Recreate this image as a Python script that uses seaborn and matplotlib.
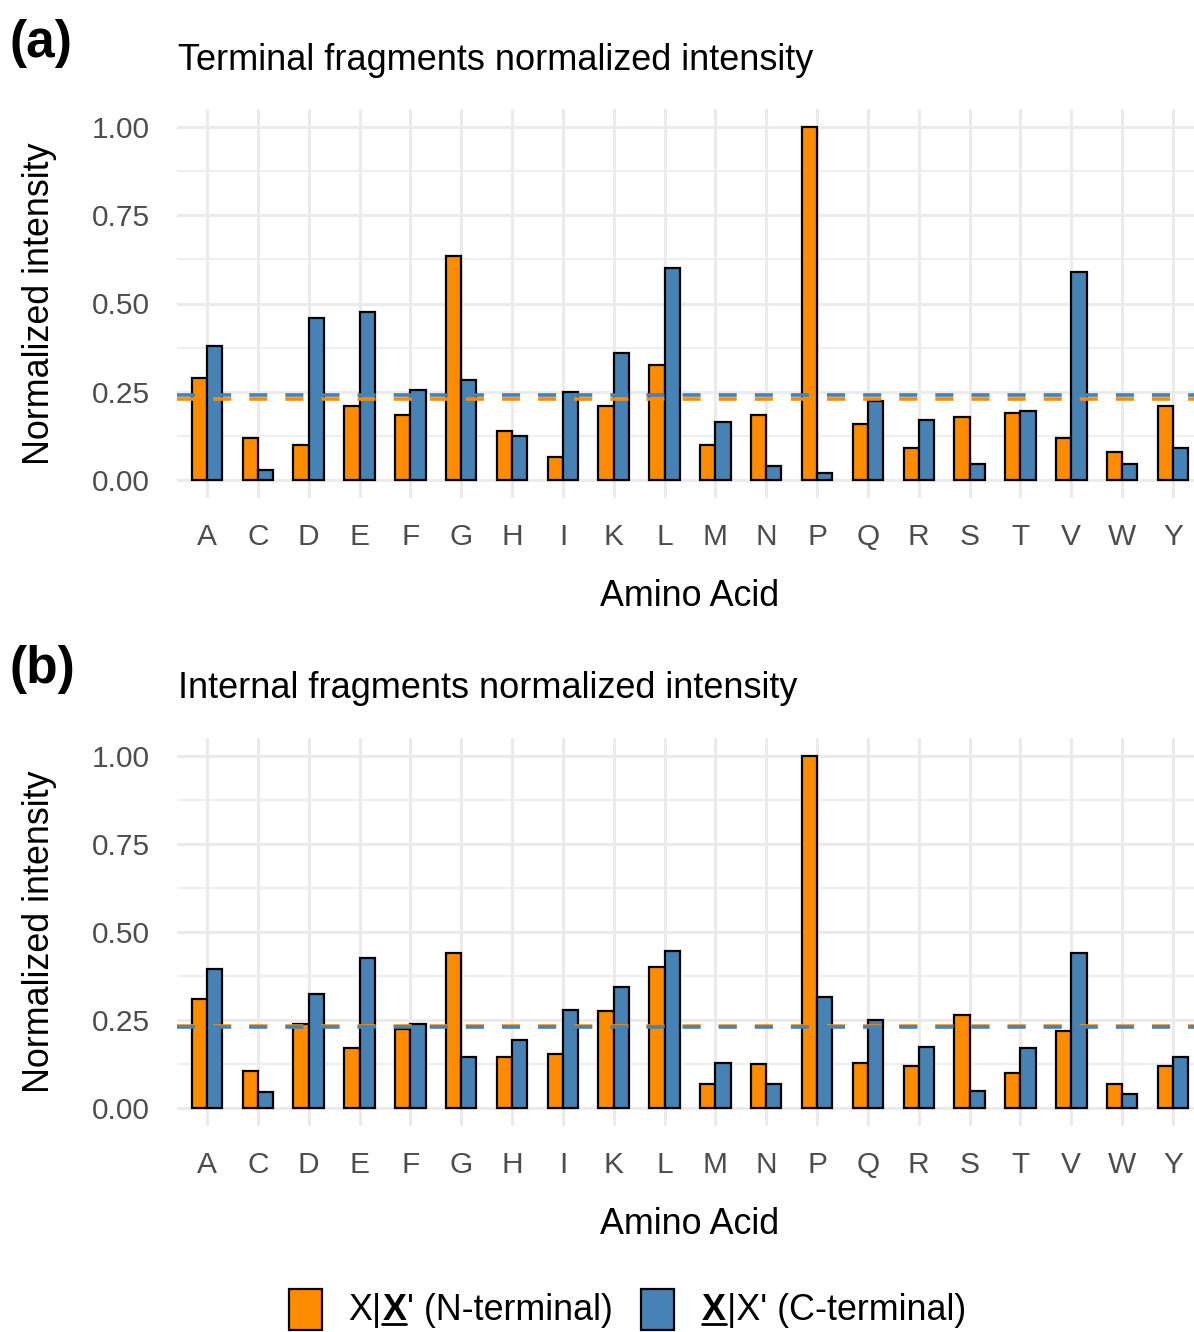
import numpy as np
import pandas as pd
import matplotlib
matplotlib.use("Agg")
import matplotlib.pyplot as plt
import seaborn as sns
from matplotlib.patches import Rectangle
from matplotlib.lines import Line2D

# ---------------- data ----------------
amino_acids = list("ACDEFGHIKLMNPQRSTVWY")
terminal_n = [0.29, 0.12, 0.10, 0.21, 0.185, 0.635, 0.14, 0.065, 0.21, 0.325,
              0.10, 0.185, 1.00, 0.16, 0.09, 0.18, 0.19, 0.12, 0.08, 0.21]
terminal_c = [0.38, 0.03, 0.46, 0.475, 0.255, 0.285, 0.125, 0.25, 0.36, 0.60,
              0.165, 0.04, 0.02, 0.225, 0.17, 0.045, 0.195, 0.59, 0.045, 0.09]
internal_n = [0.31, 0.105, 0.24, 0.17, 0.225, 0.44, 0.145, 0.155, 0.275, 0.40,
              0.07, 0.125, 1.00, 0.13, 0.12, 0.265, 0.10, 0.22, 0.07, 0.12]
internal_c = [0.395, 0.045, 0.325, 0.425, 0.24, 0.145, 0.195, 0.28, 0.345, 0.445,
              0.13, 0.07, 0.315, 0.25, 0.175, 0.05, 0.17, 0.44, 0.04, 0.145]
series = ["N-terminal", "C-terminal"]
palette = {"N-terminal": "#FF8C00", "C-terminal": "#4682B4"}
yticks = [0.0, 0.25, 0.5, 0.75, 1.0]
ytick_labels = ["0.00", "0.25", "0.50", "0.75", "1.00"]
yminor = [0.125, 0.375, 0.625, 0.875]

# ---------------- style ----------------
sns.set_theme(style="white")
plt.rcParams["font.family"] = ["Liberation Sans", "DejaVu Sans"]

W, H = 1194, 1332
fig = plt.figure(figsize=(W / 100, H / 100), dpi=100)

GRID = "#EBEBEB"
TICK_FS = 21.5
TITLE_FS = 26
LAB_FS = 25.8


def fx(x):
    return x / W


def fy(y):
    return 1 - y / H


ax_left, ax_right = 176.5, 1194
step = 50.84
x_first = 207

panels = [
    dict(n=terminal_n, c=terminal_c, title="Terminal fragments normalized intensity",
         tag="(a)", top=109, bottom=498, title_y=60, tag_y=43, xlab_y=597),
    dict(n=internal_n, c=internal_c, title="Internal fragments normalized intensity",
         tag="(b)", top=738, bottom=1126, title_y=688, tag_y=669, xlab_y=1225),
]

for p in panels:
    ax = fig.add_axes([fx(ax_left), fy(p["bottom"]), fx(ax_right - ax_left),
                       (p["bottom"] - p["top"]) / H])
    df = pd.DataFrame({
        "Amino Acid": amino_acids * 2,
        "value": list(p["n"]) + list(p["c"]),
        "type": [series[0]] * len(amino_acids) + [series[1]] * len(amino_acids),
    })
    sns.barplot(data=df, x="Amino Acid", y="value", hue="type", hue_order=series,
                palette=palette, width=0.6, dodge=True, edgecolor="black",
                linewidth=1.6, errorbar=None, legend=False, ax=ax, zorder=2,
                saturation=1)
    # mean lines
    for s, vals in zip(series, [p["n"], p["c"]]):
        ax.axhline(np.mean(vals), color=palette[s], lw=2.6,
                   linestyle=(0, (5, 5)), zorder=3)

    ax.set_xlim(-0.6, (ax_right - x_first) / step)
    ax.set_ylim(-0.05, 1.05)
    ax.set_yticks(yticks)
    ax.set_yticklabels(ytick_labels)
    ax.set_yticks(yminor, minor=True)
    ax.set_axisbelow(True)
    ax.grid(True, which="major", axis="both", color=GRID, lw=2.2, zorder=0)
    ax.grid(True, which="minor", axis="y", color=GRID, lw=1.2, zorder=0)
    for sp in ax.spines.values():
        sp.set_visible(False)
    ax.set_facecolor("white")
    ax.tick_params(axis="both", which="both", length=0)
    ax.tick_params(axis="y", pad=19, labelsize=TICK_FS, labelcolor="#4D4D4D")
    ax.tick_params(axis="x", pad=18, labelsize=TICK_FS, labelcolor="#4D4D4D")

    ax_h = p["bottom"] - p["top"]
    ax_w = ax_right - ax_left
    ax.set_xlabel("Amino Acid", fontsize=LAB_FS, color="black")
    ax.xaxis.set_label_coords((690 - ax_left) / ax_w, -(p["xlab_y"] - p["bottom"]) / ax_h)
    ax.xaxis.label.set_va("center")
    ax.set_ylabel("Normalized intensity", fontsize=LAB_FS, color="black")
    ax.yaxis.set_label_coords((40 - ax_left) / ax_w, 0.5)
    ax.yaxis.label.set_va("center")

    fig.text(fx(178), fy(p["title_y"]), p["title"], fontsize=TITLE_FS,
             ha="left", va="center", color="black")
    fig.text(fx(9), fy(p["tag_y"]), p["tag"], fontsize=37, fontweight="bold",
             ha="left", va="center", color="black")

# ---------------- legend ----------------
renderer = fig.canvas.get_renderer()
LEG_FS = 25.8
baseline = 1320


def rich_text(x0, parts):
    x = x0
    for txt, bold in parts:
        t = fig.text(fx(x), fy(baseline), txt, fontsize=LEG_FS,
                     fontweight="bold" if bold else "normal",
                     ha="left", va="baseline", color="black")
        bb = t.get_window_extent(renderer)
        if bold:
            fig.add_artist(Line2D([fx(bb.x0), fx(bb.x1)],
                                  [fy(baseline + 4), fy(baseline + 4)],
                                  color="black", lw=2.0, transform=fig.transFigure))
        x = bb.x1 + 1


legend_items = [
    (series[0], 289, 348, [("X|", False), ("X", True), ("' (N-terminal)", False)]),
    (series[1], 641, 702, [("X", True), ("|X' (C-terminal)", False)]),
]
for s, bx, tx, parts in legend_items:
    fig.add_artist(Rectangle((fx(bx), fy(1330)), 33 / W, 41 / H,
                             facecolor=palette[s], edgecolor="black", lw=1.6,
                             transform=fig.transFigure))
    rich_text(tx, parts)

fig.savefig("out.png", dpi=100, facecolor="white")
